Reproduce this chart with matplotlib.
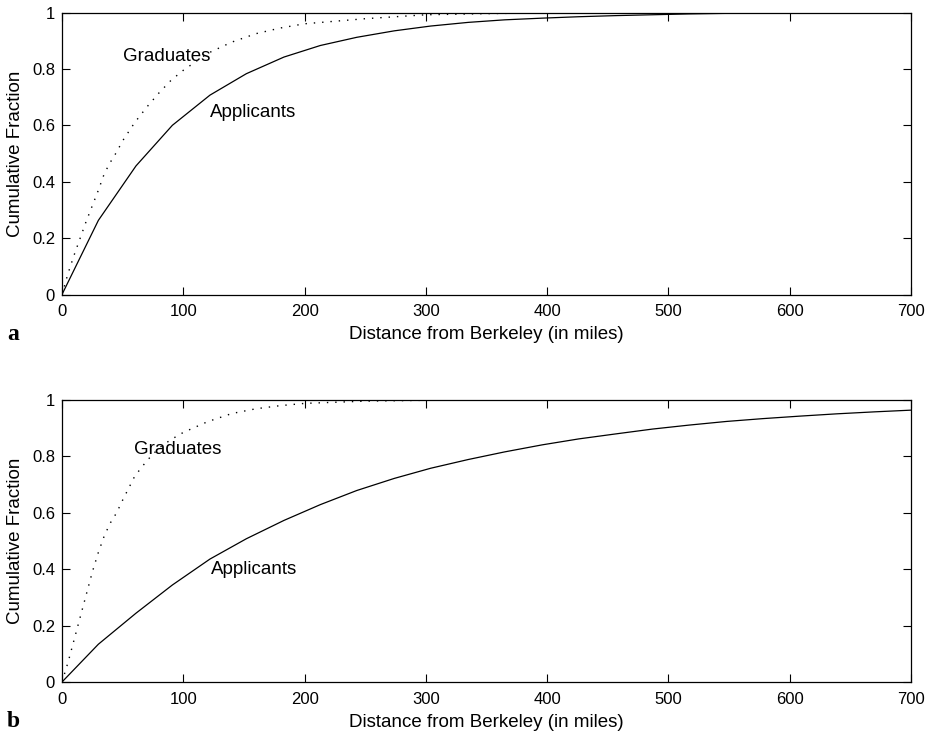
import numpy as np
import matplotlib
matplotlib.use("Agg")
import matplotlib.pyplot as plt

# -- Data --

# panel a
dist_app_a = [0, 30, 61, 91, 122, 152, 183, 213, 243, 274, 304, 335, 365,
              396, 426, 457, 487, 517, 548, 578, 609, 639, 670, 700]
frac_app_a = [0, 0.263, 0.456, 0.600, 0.707, 0.783, 0.842, 0.883, 0.912,
              0.935, 0.952, 0.965, 0.974, 0.980, 0.985, 0.989, 0.992, 0.995,
              0.997, 0.998, 0.999, 1.0, 1.0, 1.0]
dist_grad_a = [0, 5, 10, 15, 20, 25, 30, 35, 40, 45, 50, 60, 70, 80, 90,
               100, 120, 140, 160, 180, 200, 250, 300, 350, 400, 450, 700]
frac_grad_a = [0, 0.075, 0.14, 0.20, 0.26, 0.315, 0.37, 0.43, 0.47, 0.505,
               0.545, 0.61, 0.665, 0.715, 0.76, 0.795, 0.855, 0.895, 0.925,
               0.945, 0.96, 0.978, 0.992, 0.996, 0.999, 1.0, 1.0]

# panel b
dist_app_b = dist_app_a
frac_app_b = [0, 0.134, 0.244, 0.344, 0.436, 0.508, 0.573, 0.629, 0.679,
              0.722, 0.758, 0.789, 0.816, 0.841, 0.862, 0.880, 0.897, 0.911,
              0.924, 0.934, 0.943, 0.951, 0.958, 0.964]
dist_grad_b = [0, 5, 10, 15, 20, 25, 30, 35, 40, 45, 50, 60, 70, 80, 90,
               100, 120, 140, 160, 180, 200, 250, 300, 350, 700]
frac_grad_b = [0, 0.07, 0.15, 0.23, 0.31, 0.39, 0.46, 0.52, 0.565, 0.60,
               0.645, 0.73, 0.785, 0.83, 0.86, 0.885, 0.923, 0.952, 0.969,
               0.98, 0.988, 0.996, 0.999, 1.0, 1.0]

x_ticks = [0, 100, 200, 300, 400, 500, 600, 700]
y_ticks = [0, 0.2, 0.4, 0.6, 0.8, 1]
y_ticklabels = ["0", "0.2", "0.4", "0.6", "0.8", "1"]

# text anchors (distance, fraction)
grad_pos = [(50, 0.845), (59, 0.826)]
app_pos = [(122, 0.645), (123, 0.40)]

plt.rcParams["font.family"] = ["Liberation Sans", "DejaVu Sans"]

fig = plt.figure(figsize=(9.35, 7.35), dpi=100)
ax_a = fig.add_axes([62/935, 1 - 294.5/735, 849/935, 282/735])
ax_b = fig.add_axes([62/935, 1 - 682/735, 849/935, 282/735])

panels = [
    (ax_a, dist_app_a, frac_app_a, dist_grad_a, frac_grad_a, "a", 340),
    (ax_b, dist_app_b, frac_app_b, dist_grad_b, frac_grad_b, "b", 727),
]

for i, (ax, xa, ya, xg, yg, tag, tag_y) in enumerate(panels):
    ax.plot(xa, ya, color="black", lw=0.9)
    ax.plot(xg, yg, color="black", lw=1.0, linestyle=(0, (1, 5)))

    ax.set_xlim(0, 700)
    ax.set_ylim(0, 1)
    ax.set_xticks(x_ticks)
    ax.set_yticks(y_ticks)
    ax.set_yticklabels(y_ticklabels)
    ax.tick_params(direction="in", top=True, right=True, length=6,
                   width=0.8, labelsize=12)
    ax.tick_params(axis="x", pad=7)
    ax.tick_params(axis="y", pad=5)
    for sp in ax.spines.values():
        sp.set_linewidth(0.9)

    ax.set_xlabel("Distance from Berkeley (in miles)", fontsize=13.5,
                  labelpad=5)
    ax.set_ylabel("Cumulative Fraction", fontsize=13.5, labelpad=6)

    gx, gy = grad_pos[i]
    axp, ayp = app_pos[i]
    ax.text(gx, gy, "Graduates", fontsize=13.5, va="center", ha="left")
    ax.text(axp, ayp, "Applicants", fontsize=13.5, va="center", ha="left")

    fig.text(7/935, 1 - tag_y/735, tag, fontfamily="Liberation Serif",
             fontweight="bold", fontsize=17, va="baseline", ha="left")

fig.savefig("out.png", dpi=100)
